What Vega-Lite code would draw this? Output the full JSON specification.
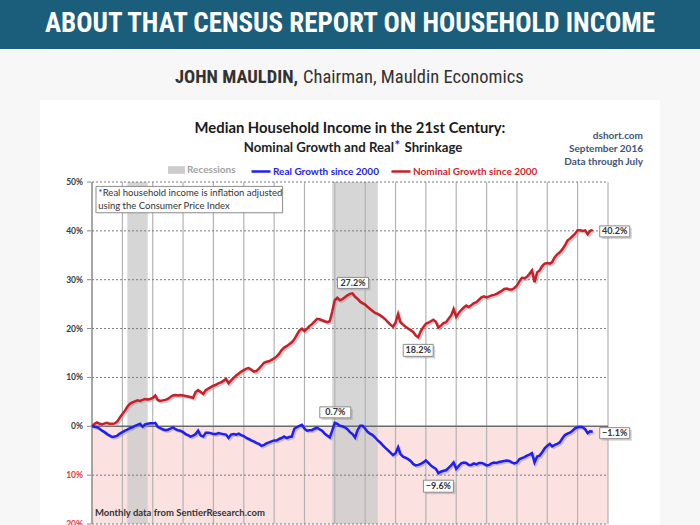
{
  "$schema": "https://vega.github.io/schema/vega-lite/v6.json",
  "background": "#f7f7f7",
  "padding": 0,
  "spacing": 0,
  "bounds": "flush",
  "center": true,
  "config": {"view": {"stroke": null}},
  "datasets": {
    "income": [
      {"d":"2000-01","n":0,"r":0},{"d":"2000-02","n":0.005,"r":-0.001},{"d":"2000-03","n":0.008,"r":-0.002},{"d":"2000-04","n":0.005,"r":-0.005},{"d":"2000-05","n":0.004,"r":-0.009},{"d":"2000-06","n":0.006,"r":-0.012},{"d":"2000-07","n":0.007,"r":-0.016},{"d":"2000-08","n":0.005,"r":-0.019},{"d":"2000-09","n":0.005,"r":-0.022},{"d":"2000-10","n":0.006,"r":-0.021},{"d":"2000-11","n":0.010,"r":-0.019},{"d":"2000-12","n":0.018,"r":-0.015},
      {"d":"2001-01","n":0.025,"r":-0.012},{"d":"2001-02","n":0.032,"r":-0.009},{"d":"2001-03","n":0.040,"r":-0.007},{"d":"2001-04","n":0.046,"r":-0.004},{"d":"2001-05","n":0.049,"r":-0.002},{"d":"2001-06","n":0.051,"r":0.001},{"d":"2001-07","n":0.053,"r":0.003},{"d":"2001-08","n":0.052,"r":0.005},{"d":"2001-09","n":0.054,"r":-0.001},{"d":"2001-10","n":0.056,"r":0.004},{"d":"2001-11","n":0.055,"r":0.005},{"d":"2001-12","n":0.056,"r":0.006},
      {"d":"2002-01","n":0.058,"r":0.006},{"d":"2002-02","n":0.063,"r":0.007},{"d":"2002-03","n":0.054,"r":-0.001},{"d":"2002-04","n":0.052,"r":-0.004},{"d":"2002-05","n":0.053,"r":-0.006},{"d":"2002-06","n":0.054,"r":-0.008},{"d":"2002-07","n":0.056,"r":-0.007},{"d":"2002-08","n":0.060,"r":-0.005},{"d":"2002-09","n":0.063,"r":-0.002},{"d":"2002-10","n":0.064,"r":-0.006},{"d":"2002-11","n":0.063,"r":-0.008},{"d":"2002-12","n":0.064,"r":-0.009},
      {"d":"2003-01","n":0.063,"r":-0.012},{"d":"2003-02","n":0.062,"r":-0.016},{"d":"2003-03","n":0.061,"r":-0.018},{"d":"2003-04","n":0.060,"r":-0.021},{"d":"2003-05","n":0.058,"r":-0.019},{"d":"2003-06","n":0.070,"r":-0.016},{"d":"2003-07","n":0.074,"r":-0.009},{"d":"2003-08","n":0.070,"r":-0.019},{"d":"2003-09","n":0.066,"r":-0.021},{"d":"2003-10","n":0.074,"r":-0.013},{"d":"2003-11","n":0.077,"r":-0.013},{"d":"2003-12","n":0.080,"r":-0.014},
      {"d":"2004-01","n":0.083,"r":-0.016},{"d":"2004-02","n":0.085,"r":-0.016},{"d":"2004-03","n":0.088,"r":-0.014},{"d":"2004-04","n":0.090,"r":-0.015},{"d":"2004-05","n":0.093,"r":-0.016},{"d":"2004-06","n":0.097,"r":-0.017},{"d":"2004-07","n":0.088,"r":-0.024},{"d":"2004-08","n":0.094,"r":-0.017},{"d":"2004-09","n":0.099,"r":-0.016},{"d":"2004-10","n":0.104,"r":-0.017},{"d":"2004-11","n":0.108,"r":-0.015},{"d":"2004-12","n":0.112,"r":-0.018},
      {"d":"2005-01","n":0.115,"r":-0.020},{"d":"2005-02","n":0.118,"r":-0.024},{"d":"2005-03","n":0.119,"r":-0.026},{"d":"2005-04","n":0.116,"r":-0.029},{"d":"2005-05","n":0.112,"r":-0.031},{"d":"2005-06","n":0.113,"r":-0.034},{"d":"2005-07","n":0.118,"r":-0.036},{"d":"2005-08","n":0.124,"r":-0.040},{"d":"2005-09","n":0.130,"r":-0.038},{"d":"2005-10","n":0.132,"r":-0.035},{"d":"2005-11","n":0.133,"r":-0.033},{"d":"2005-12","n":0.136,"r":-0.031},
      {"d":"2006-01","n":0.139,"r":-0.029},{"d":"2006-02","n":0.143,"r":-0.029},{"d":"2006-03","n":0.148,"r":-0.026},{"d":"2006-04","n":0.156,"r":-0.024},{"d":"2006-05","n":0.161,"r":-0.021},{"d":"2006-06","n":0.164,"r":-0.024},{"d":"2006-07","n":0.168,"r":-0.022},{"d":"2006-08","n":0.172,"r":-0.021},{"d":"2006-09","n":0.178,"r":-0.005},{"d":"2006-10","n":0.187,"r":-0.002},{"d":"2006-11","n":0.196,"r":0.001},{"d":"2006-12","n":0.200,"r":0.003},
      {"d":"2007-01","n":0.195,"r":-0.005},{"d":"2007-02","n":0.200,"r":-0.009},{"d":"2007-03","n":0.205,"r":-0.008},{"d":"2007-04","n":0.209,"r":-0.008},{"d":"2007-05","n":0.214,"r":-0.005},{"d":"2007-06","n":0.220,"r":-0.003},{"d":"2007-07","n":0.219,"r":-0.006},{"d":"2007-08","n":0.217,"r":-0.009},{"d":"2007-09","n":0.215,"r":-0.015},{"d":"2007-10","n":0.213,"r":-0.019},{"d":"2007-11","n":0.215,"r":-0.023},{"d":"2007-12","n":0.235,"r":-0.009},
      {"d":"2008-01","n":0.258,"r":0.007},{"d":"2008-02","n":0.263,"r":0.005},{"d":"2008-03","n":0.258,"r":0.001},{"d":"2008-04","n":0.260,"r":0.000},{"d":"2008-05","n":0.264,"r":-0.002},{"d":"2008-06","n":0.268,"r":-0.006},{"d":"2008-07","n":0.271,"r":-0.012},{"d":"2008-08","n":0.272,"r":-0.016},{"d":"2008-09","n":0.265,"r":-0.023},{"d":"2008-10","n":0.261,"r":-0.008},{"d":"2008-11","n":0.255,"r":0.001},{"d":"2008-12","n":0.252,"r":0.001},
      {"d":"2009-01","n":0.249,"r":-0.005},{"d":"2009-02","n":0.244,"r":-0.012},{"d":"2009-03","n":0.240,"r":-0.015},{"d":"2009-04","n":0.236,"r":-0.018},{"d":"2009-05","n":0.232,"r":-0.023},{"d":"2009-06","n":0.230,"r":-0.029},{"d":"2009-07","n":0.227,"r":-0.033},{"d":"2009-08","n":0.223,"r":-0.039},{"d":"2009-09","n":0.219,"r":-0.044},{"d":"2009-10","n":0.213,"r":-0.049},{"d":"2009-11","n":0.208,"r":-0.054},{"d":"2009-12","n":0.204,"r":-0.059},
      {"d":"2010-01","n":0.212,"r":-0.055},{"d":"2010-02","n":0.230,"r":-0.043},{"d":"2010-03","n":0.213,"r":-0.057},{"d":"2010-04","n":0.208,"r":-0.062},{"d":"2010-05","n":0.204,"r":-0.064},{"d":"2010-06","n":0.200,"r":-0.067},{"d":"2010-07","n":0.197,"r":-0.071},{"d":"2010-08","n":0.193,"r":-0.077},{"d":"2010-09","n":0.186,"r":-0.080},{"d":"2010-10","n":0.182,"r":-0.079},{"d":"2010-11","n":0.195,"r":-0.077},{"d":"2010-12","n":0.203,"r":-0.074},
      {"d":"2011-01","n":0.210,"r":-0.070},{"d":"2011-02","n":0.212,"r":-0.075},{"d":"2011-03","n":0.215,"r":-0.080},{"d":"2011-04","n":0.218,"r":-0.084},{"d":"2011-05","n":0.214,"r":-0.087},{"d":"2011-06","n":0.202,"r":-0.096},{"d":"2011-07","n":0.206,"r":-0.093},{"d":"2011-08","n":0.211,"r":-0.091},{"d":"2011-09","n":0.213,"r":-0.090},{"d":"2011-10","n":0.220,"r":-0.085},{"d":"2011-11","n":0.227,"r":-0.080},{"d":"2011-12","n":0.240,"r":-0.074},
      {"d":"2012-01","n":0.224,"r":-0.087},{"d":"2012-02","n":0.232,"r":-0.081},{"d":"2012-03","n":0.238,"r":-0.076},{"d":"2012-04","n":0.243,"r":-0.074},{"d":"2012-05","n":0.247,"r":-0.075},{"d":"2012-06","n":0.244,"r":-0.079},{"d":"2012-07","n":0.248,"r":-0.079},{"d":"2012-08","n":0.252,"r":-0.076},{"d":"2012-09","n":0.254,"r":-0.078},{"d":"2012-10","n":0.259,"r":-0.075},{"d":"2012-11","n":0.264,"r":-0.075},{"d":"2012-12","n":0.266,"r":-0.077},
      {"d":"2013-01","n":0.264,"r":-0.080},{"d":"2013-02","n":0.266,"r":-0.079},{"d":"2013-03","n":0.268,"r":-0.076},{"d":"2013-04","n":0.269,"r":-0.074},{"d":"2013-05","n":0.271,"r":-0.075},{"d":"2013-06","n":0.274,"r":-0.073},{"d":"2013-07","n":0.277,"r":-0.072},{"d":"2013-08","n":0.281,"r":-0.071},{"d":"2013-09","n":0.282,"r":-0.070},{"d":"2013-10","n":0.280,"r":-0.071},{"d":"2013-11","n":0.280,"r":-0.074},{"d":"2013-12","n":0.283,"r":-0.076},
      {"d":"2014-01","n":0.288,"r":-0.074},{"d":"2014-02","n":0.297,"r":-0.067},{"d":"2014-03","n":0.304,"r":-0.065},{"d":"2014-04","n":0.303,"r":-0.063},{"d":"2014-05","n":0.306,"r":-0.060},{"d":"2014-06","n":0.312,"r":-0.058},{"d":"2014-07","n":0.319,"r":-0.055},{"d":"2014-08","n":0.295,"r":-0.074},{"d":"2014-09","n":0.315,"r":-0.062},{"d":"2014-10","n":0.319,"r":-0.060},{"d":"2014-11","n":0.328,"r":-0.053},{"d":"2014-12","n":0.333,"r":-0.045},
      {"d":"2015-01","n":0.334,"r":-0.040},{"d":"2015-02","n":0.333,"r":-0.036},{"d":"2015-03","n":0.336,"r":-0.041},{"d":"2015-04","n":0.346,"r":-0.038},{"d":"2015-05","n":0.352,"r":-0.036},{"d":"2015-06","n":0.356,"r":-0.033},{"d":"2015-07","n":0.362,"r":-0.025},{"d":"2015-08","n":0.370,"r":-0.018},{"d":"2015-09","n":0.380,"r":-0.015},{"d":"2015-10","n":0.384,"r":-0.013},{"d":"2015-11","n":0.389,"r":-0.009},{"d":"2015-12","n":0.394,"r":-0.004},
      {"d":"2016-01","n":0.401,"r":-0.002},{"d":"2016-02","n":0.401,"r":-0.001},{"d":"2016-03","n":0.400,"r":-0.002},{"d":"2016-04","n":0.401,"r":-0.006},{"d":"2016-05","n":0.393,"r":-0.014},{"d":"2016-06","n":0.400,"r":-0.010},{"d":"2016-07","n":0.402,"r":-0.011}
    ],
    "years": [{"yr":"2000-01"},{"yr":"2001-01"},{"yr":"2002-01"},{"yr":"2003-01"},{"yr":"2004-01"},{"yr":"2005-01"},{"yr":"2006-01"},{"yr":"2007-01"},{"yr":"2008-01"},{"yr":"2009-01"},{"yr":"2010-01"},{"yr":"2011-01"},{"yr":"2012-01"},{"yr":"2013-01"},{"yr":"2014-01"},{"yr":"2015-01"},{"yr":"2016-01"},{"yr":"2017-01"}],
    "levels": [{"v":-0.2},{"v":-0.1},{"v":0.1},{"v":0.2},{"v":0.3},{"v":0.4},{"v":0.5}],
    "ticks": [{"v":0.5,"lab":"50%"},{"v":0.4,"lab":"40%"},{"v":0.3,"lab":"30%"},{"v":0.2,"lab":"20%"},{"v":0.1,"lab":"10%"},{"v":0,"lab":"0%"},{"v":-0.1,"lab":"10%"},{"v":-0.2,"lab":"20%"}],
    "recessions": [{"s":"2001-03","e":"2001-11"},{"s":"2007-12","e":"2009-06"}],
    "one": [{}]
  },
  "vconcat": [
    {
      "width": 700, "height": 49,
      "view": {"fill": "#1b5e7c", "stroke": null},
      "data": {"values": [{"t": "ABOUT THAT CENSUS REPORT ON HOUSEHOLD INCOME"}]},
      "mark": {"type": "text", "font": "Roboto Condensed, Liberation Sans Narrow, Roboto", "fontSize": 27, "fontWeight": "bold", "color": "#ffffff", "dy": -1},
      "encoding": {"text": {"field": "t", "type": "nominal"}}
    },
    {
      "width": 700, "height": 51,
      "view": {"fill": "#f7f7f7", "stroke": null},
      "data": {"values": [{"a": "JOHN MAULDIN,", "b": "Chairman, Mauldin Economics"}]},
      "layer": [
        {"mark": {"type": "text", "align": "right", "dx": -52, "dy": 2.5, "font": "Roboto Condensed, Liberation Sans Narrow, Roboto", "fontSize": 18.5, "fontWeight": "bold", "color": "#333333"}, "encoding": {"text": {"field": "a", "type": "nominal"}}},
        {"mark": {"type": "text", "align": "left", "dx": -47, "dy": 2.5, "font": "Roboto Condensed, Liberation Sans Narrow, Roboto", "fontSize": 18.5, "color": "#333333"}, "encoding": {"text": {"field": "b", "type": "nominal"}}}
      ]
    },
    {
      "width": 620, "height": 82,
      "view": {"fill": "#ffffff", "stroke": null},
      "data": {"values": [{"t": "Median Household Income in the 21st Century:", "s1": "Nominal  Growth and Real", "s2": "*", "s3": "Shrinkage"}]},
      "layer": [
        {"mark": {"type": "text", "dy": -12, "font": "Lato", "fontSize": 14.8, "fontWeight": "bold", "color": "#1a1a1a"}, "encoding": {"text": {"field": "t", "type": "nominal"}}},
        {"mark": {"type": "text", "align": "right", "dx": 44, "dy": 7, "font": "Lato", "fontSize": 13.2, "fontWeight": "bold", "color": "#222222"}, "encoding": {"text": {"field": "s1", "type": "nominal"}}},
        {"mark": {"type": "text", "align": "left", "dx": 44.5, "dy": 5, "font": "Lato", "fontSize": 13.2, "fontWeight": "bold", "color": "#2323ee"}, "encoding": {"text": {"field": "s2", "type": "nominal"}}},
        {"mark": {"type": "text", "align": "left", "dx": 54.5, "dy": 7, "font": "Lato", "fontSize": 13.2, "fontWeight": "bold", "color": "#222222"}, "encoding": {"text": {"field": "s3", "type": "nominal"}}},
        {"mark": {"type": "text", "text": ["dshort.com", "September 2016", "Data through July"], "align": "right", "baseline": "middle", "dx": 293, "dy": -5, "lineHeight": 12.8, "font": "Lato", "fontSize": 10, "fontWeight": "bold", "color": "#3e5478"}}
      ]
    },
    {
      "width": 620, "height": 343,
      "view": {"fill": "#ffffff", "stroke": null},
      "layer": [
        {
          "data": {"name": "one"},
          "mark": {"type": "rect", "color": "#fce1e1"},
          "encoding": {
            "x": {"datum": {"year": 2000, "utc": true}, "type": "temporal", "scale": {"type": "utc", "domain": [{"year": 2000, "utc": true}, {"year": 2017, "utc": true}], "range": [52, 568]}, "axis": null},
            "x2": {"datum": {"year": 2017, "utc": true}},
            "y": {"datum": 0, "type": "quantitative", "scale": {"domain": [-0.2, 0.5], "range": [342, 0], "nice": false, "zero": false}, "axis": null},
            "y2": {"datum": -0.2}
          }
        },
        {
          "data": {"name": "recessions"},
          "mark": {"type": "rect", "opacity": 0.8},
          "encoding": {
            "x": {"field": "s", "type": "temporal", "axis": null},
            "x2": {"field": "e"},
            "y": {"datum": 0.5, "type": "quantitative", "axis": null},
            "y2": {"datum": -0.2},
            "fill": {"datum": "Recessions", "type": "nominal", "scale": {"range": ["#cccccc"]},
              "legend": {"orient": "none", "legendX": 168, "legendY": 161.5, "title": null, "symbolType": "M-1,-0.45H1V0.45H-1Z", "symbolSize": 289, "symbolStrokeWidth": 0, "symbolOpacity": 1, "labelFont": "Lato", "labelFontSize": 10, "labelFontWeight": "bold", "labelColor": "#a3a3a3", "labelOffset": 2, "labelLimit": 0, "padding": 0}}
          }
        },
        {
          "data": {"name": "years"},
          "mark": {"type": "rule", "color": "#b3b3b3", "strokeWidth": 1.2},
          "encoding": {
            "x": {"field": "yr", "type": "temporal", "axis": null},
            "y": {"datum": 0.5, "type": "quantitative", "axis": null},
            "y2": {"datum": -0.2}
          }
        },
        {
          "data": {"name": "one"},
          "mark": {"type": "rule", "color": "#8a8a8a", "strokeWidth": 1.2},
          "encoding": {
            "x": {"datum": {"year": 2000, "utc": true}, "type": "temporal", "axis": null},
            "y": {"datum": 0.5, "type": "quantitative", "axis": null},
            "y2": {"datum": -0.2}
          }
        },
        {
          "data": {"name": "levels"},
          "mark": {"type": "rule", "color": "#7a7a7a", "strokeWidth": 1, "strokeDash": [2, 2]},
          "encoding": {
            "x": {"datum": {"year": 2000, "utc": true}, "type": "temporal", "axis": null},
            "x2": {"datum": {"year": 2017, "utc": true}},
            "y": {"field": "v", "type": "quantitative", "axis": null}
          }
        },
        {
          "data": {"name": "one"},
          "mark": {"type": "rule", "color": "#6a6a6a", "strokeWidth": 1.5},
          "encoding": {
            "x": {"datum": {"year": 2000, "utc": true}, "type": "temporal", "axis": null},
            "x2": {"datum": {"year": 2017, "utc": true}},
            "y": {"datum": 0, "type": "quantitative", "axis": null}
          }
        },
        {
          "data": {"name": "ticks"},
          "mark": {"type": "point", "shape": "M-5,0H-1", "size": 4, "filled": false, "stroke": "#888888", "strokeWidth": 1, "opacity": 1},
          "encoding": {
            "x": {"datum": {"year": 2000, "utc": true}, "type": "temporal", "axis": null},
            "y": {"field": "v", "type": "quantitative", "axis": null}
          }
        },
        {
          "data": {"name": "ticks"},
          "mark": {"type": "text", "align": "right", "baseline": "middle", "dx": -9, "font": "Lato", "fontSize": 8.5, "fontWeight": "bold"},
          "encoding": {
            "x": {"datum": {"year": 2000, "utc": true}, "type": "temporal", "axis": null},
            "y": {"field": "v", "type": "quantitative", "axis": null},
            "text": {"field": "lab", "type": "nominal"},
            "color": {"condition": {"test": "datum.v < 0", "value": "#e8343a"}, "value": "#3a3a3a"}
          }
        },
        {
          "data": {"name": "one"},
          "mark": {"type": "rect", "color": "#999999", "opacity": 0.45, "xOffset": 2, "yOffset": 2},
          "encoding": {
            "x": {"datum": {"year": 2000, "month": 2, "date": 18, "utc": true}, "type": "temporal", "axis": null},
            "x2": {"datum": {"year": 2006, "month": 4, "date": 13, "utc": true}},
            "y": {"datum": 0.491, "type": "quantitative", "axis": null},
            "y2": {"datum": 0.437}
          }
        },
        {
          "data": {"name": "one"},
          "mark": {"type": "rect", "fill": "#ffffff", "stroke": "#8c8c8c", "strokeWidth": 1},
          "encoding": {
            "x": {"datum": {"year": 2000, "month": 2, "date": 18, "utc": true}, "type": "temporal", "axis": null},
            "x2": {"datum": {"year": 2006, "month": 4, "date": 13, "utc": true}},
            "y": {"datum": 0.491, "type": "quantitative", "axis": null},
            "y2": {"datum": 0.437}
          }
        },
        {
          "data": {"name": "one"},
          "mark": {"type": "text", "text": "*", "align": "left", "baseline": "middle", "font": "Lato", "fontSize": 9.5, "color": "#2323ee"},
          "encoding": {
            "x": {"datum": {"year": 2000, "month": 3, "date": 16, "utc": true}, "type": "temporal", "axis": null},
            "y": {"datum": 0.4769, "type": "quantitative", "axis": null}
          }
        },
        {
          "data": {"name": "one"},
          "mark": {"type": "text", "text": "Real household  income is inflation adjusted", "align": "left", "baseline": "middle", "dx": 4.5, "font": "Lato", "fontSize": 9.5, "color": "#333333"},
          "encoding": {
            "x": {"datum": {"year": 2000, "month": 3, "date": 16, "utc": true}, "type": "temporal", "axis": null},
            "y": {"datum": 0.4769, "type": "quantitative", "axis": null}
          }
        },
        {
          "data": {"name": "one"},
          "mark": {"type": "text", "text": "using  the Consumer Price Index", "align": "left", "baseline": "middle", "font": "Lato", "fontSize": 9.5, "color": "#333333"},
          "encoding": {
            "x": {"datum": {"year": 2000, "month": 3, "date": 16, "utc": true}, "type": "temporal", "axis": null},
            "y": {"datum": 0.4509, "type": "quantitative", "axis": null}
          }
        },
        {
          "data": {"name": "one"},
          "mark": {"type": "text", "text": "Monthly data  from SentierResearch.com", "align": "left", "baseline": "middle", "font": "Lato", "fontSize": 9.5, "fontWeight": "bold", "color": "#333333"},
          "encoding": {
            "x": {"datum": {"year": 2000, "month": 2, "date": 6, "utc": true}, "type": "temporal", "axis": null},
            "y": {"datum": -0.177, "type": "quantitative", "axis": null}
          }
        },
        {
          "data": {"name": "income"},
          "mark": {"type": "line", "color": "#999999", "opacity": 0.5, "strokeWidth": 2.5, "xOffset": 1.5, "yOffset": 1.5},
          "encoding": {
            "x": {"field": "d", "type": "temporal", "axis": null},
            "y": {"field": "n", "type": "quantitative", "axis": null}
          }
        },
        {
          "data": {"name": "income"},
          "mark": {"type": "line", "color": "#999999", "opacity": 0.5, "strokeWidth": 2.5, "xOffset": 1.5, "yOffset": 1.5},
          "encoding": {
            "x": {"field": "d", "type": "temporal", "axis": null},
            "y": {"field": "r", "type": "quantitative", "axis": null}
          }
        },
        {
          "data": {"name": "income"},
          "mark": {"type": "line", "strokeWidth": 2.5},
          "encoding": {
            "x": {"field": "d", "type": "temporal", "axis": null},
            "y": {"field": "n", "type": "quantitative", "axis": null},
            "color": {"datum": "Nominal Growth since 2000", "type": "nominal", "scale": {"range": ["#c8202a"]},
              "legend": {"orient": "none", "legendX": 390, "legendY": 160.5, "title": null, "symbolType": "stroke", "symbolSize": 360, "symbolStrokeWidth": 2.5, "labelFont": "Lato", "labelFontSize": 10, "labelFontWeight": "bold", "labelColor": "#d0262e", "labelOffset": 1, "labelLimit": 0, "padding": 0}}
          }
        },
        {
          "data": {"name": "income"},
          "mark": {"type": "line", "strokeWidth": 2.5},
          "encoding": {
            "x": {"field": "d", "type": "temporal", "axis": null},
            "y": {"field": "r", "type": "quantitative", "axis": null},
            "stroke": {"datum": "Real Growth since 2000", "type": "nominal", "scale": {"range": ["#1f1ff5"]},
              "legend": {"orient": "none", "legendX": 250, "legendY": 160.5, "title": null, "symbolType": "stroke", "symbolSize": 360, "symbolStrokeWidth": 2.5, "labelFont": "Lato", "labelFontSize": 10, "labelFontWeight": "bold", "labelColor": "#2323ee", "labelOffset": 1, "labelLimit": 0, "padding": 0}}
          }
        },
        {
          "data": {"name": "income"},
          "transform": [
            {"fold": ["n", "r"], "as": ["k", "v"]},
            {"filter": "(datum.k == 'n' && utcyear(datum.d) == 2008 && utcmonth(datum.d) == 7) || (datum.k == 'r' && utcyear(datum.d) == 2008 && utcmonth(datum.d) == 0)"}
          ],
          "encoding": {
            "x": {"field": "d", "type": "temporal", "axis": null},
            "y": {"field": "v", "type": "quantitative", "axis": null}
          },
          "layer": [
            {"mark": {"type": "point", "shape": "M-13,-14H18V-3H-13Z", "size": 4, "filled": true, "fill": "#999999", "opacity": 0.45, "strokeWidth": 0}},
            {"mark": {"type": "point", "shape": "M-15,-16H16V-5H-15Z", "size": 4, "filled": true, "fill": "#ffffff", "stroke": "#8c8c8c", "strokeWidth": 1, "opacity": 1}},
            {"mark": {"type": "text", "dy": -10.5, "dx": 0.5, "font": "Lato", "fontSize": 9, "fontWeight": "bold", "color": "#333333"}, "encoding": {"text": {"field": "v", "type": "quantitative", "format": ".1%"}}}
          ]
        },
        {
          "data": {"name": "income"},
          "transform": [
            {"fold": ["n", "r"], "as": ["k", "v"]},
            {"filter": "(datum.k == 'n' && utcyear(datum.d) == 2010 && utcmonth(datum.d) == 9) || (datum.k == 'r' && utcyear(datum.d) == 2011 && utcmonth(datum.d) == 5)"}
          ],
          "encoding": {
            "x": {"field": "d", "type": "temporal", "axis": null},
            "y": {"field": "v", "type": "quantitative", "axis": null}
          },
          "layer": [
            {"mark": {"type": "point", "shape": "M-13,9H17V21H-13Z", "size": 4, "filled": true, "fill": "#999999", "opacity": 0.45, "strokeWidth": 0}},
            {"mark": {"type": "point", "shape": "M-15,7H15V19H-15Z", "size": 4, "filled": true, "fill": "#ffffff", "stroke": "#8c8c8c", "strokeWidth": 1, "opacity": 1}},
            {"mark": {"type": "text", "dy": 13, "font": "Lato", "fontSize": 9, "fontWeight": "bold", "color": "#333333"}, "encoding": {"text": {"field": "v", "type": "quantitative", "format": ".1%"}}}
          ]
        },
        {
          "data": {"name": "income"},
          "transform": [
            {"fold": ["n", "r"], "as": ["k", "v"]},
            {"filter": "utcyear(datum.d) == 2016 && utcmonth(datum.d) == 6"}
          ],
          "encoding": {
            "x": {"field": "d", "type": "temporal", "axis": null},
            "y": {"field": "v", "type": "quantitative", "axis": null}
          },
          "layer": [
            {"mark": {"type": "point", "shape": "M9,-2H39V9H9Z", "size": 4, "filled": true, "fill": "#999999", "opacity": 0.45, "strokeWidth": 0}},
            {"mark": {"type": "point", "shape": "M7,-4H37V7H7Z", "size": 4, "filled": true, "fill": "#ffffff", "stroke": "#8c8c8c", "strokeWidth": 1, "opacity": 1}},
            {"mark": {"type": "text", "dx": 22, "dy": 1.5, "font": "Lato", "fontSize": 9, "fontWeight": "bold", "color": "#333333"}, "encoding": {"text": {"field": "v", "type": "quantitative", "format": ".1%"}}}
          ]
        }
      ]
    }
  ]
}
